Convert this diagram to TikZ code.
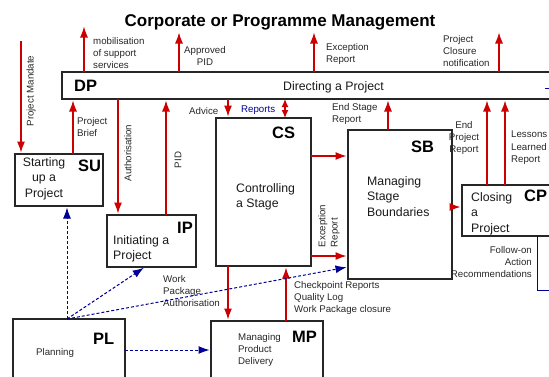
\documentclass[tikz,border=0pt]{standalone}
\usepackage{fontspec}
\setmainfont{Liberation Sans}
\usetikzlibrary{arrows.meta}
\definecolor{pred}{RGB}{204,0,0}
\definecolor{pblue}{RGB}{0,0,150}
\definecolor{ptxt}{RGB}{40,40,40}
\begin{document}
\begin{tikzpicture}[x=1pt,y=-1pt,
  box/.style={draw=black!85, line width=1.2pt, anchor=north west, inner sep=0pt, outer sep=0pt, fill=white},
  ra/.style={draw=pred, line width=1.2pt, shorten >=1.5pt, -{Latex[length=11pt,width=8pt]}},
  rb/.style={draw=pred, line width=1.2pt, {Latex[length=8pt,width=7pt]}-{Latex[length=8pt,width=7pt]}},
  ba/.style={draw=pblue, line width=1pt, dash pattern=on 3pt off 2pt, shorten >=1.5pt, -{Latex[length=11pt,width=8pt]}},
  bl/.style={draw=pblue, line width=1pt},
  lbl/.style={font=\fontsize{9.7}{12.3}\selectfont, text=ptxt, inner sep=0pt, align=left},
  lblr/.style={lbl, align=right},
  lblc/.style={lbl, align=center},
  btxt/.style={font=\fontsize{12.3}{15.5}\selectfont, text=black!90, inner sep=0pt, align=left},
  code/.style={font=\fontsize{16.5}{18}\selectfont\bfseries, inner sep=0pt}]
\clip (0,0) rectangle (549,376);
\fill[white] (0,0) rectangle (549,376);

% title
\node[font=\fontsize{17}{20}\selectfont\bfseries, inner sep=0pt] (title) at (280,22) {Corporate or Programme Management};

% boxes
\node[box, minimum width=500pt, minimum height=27pt] (dp) at (62,72) {};
\node[box, minimum width=88pt, minimum height=52pt] (su) at (15,154) {};
\node[box, minimum width=89pt, minimum height=52pt] (ip) at (107,215) {};
\node[box, minimum width=95pt, minimum height=148pt] (cs) at (216,118) {};
\node[box, minimum width=104pt, minimum height=149pt] (sb) at (348,130) {};
\node[box, minimum width=100pt, minimum height=51pt] (cp) at (462,185) {};
\node[box, minimum width=112pt, minimum height=70pt] (pl) at (13,319) {};
\node[box, minimum width=112pt, minimum height=70pt] (mp) at (211,321) {};

% box texts
\node[code, anchor=west] (dpc) at (74,86) {DP};
\node[btxt, anchor=west] (dpt) at (283,87) {Directing a Project};
\node[code, anchor=west] (suc) at (78,166) {SU};
\node[btxt, align=center, anchor=north] (sut) at (44,157) {Starting\\up a\\Project};
\node[code, anchor=west] (ipc) at (177,228) {IP};
\node[btxt, anchor=north west] (ipt) at (113,235) {Initiating a\\Project};
\node[code, anchor=west] (csc) at (272,133) {CS};
\node[btxt, anchor=north west] (cst) at (236,183) {Controlling\\a Stage};
\node[code, anchor=west] (sbc) at (411,147) {SB};
\node[btxt, anchor=north west] (sbt) at (367,176) {Managing\\Stage\\Boundaries};
\node[code, anchor=west] (cpc) at (524,196) {CP};
\node[btxt, anchor=north west] (cpt) at (471,192) {Closing\\a\\Project};
\node[code, anchor=west] (plc) at (93,339) {PL};
\node[lbl, anchor=west] (plt) at (36,353) {Planning};
\node[code, anchor=west] (mpc) at (292,337) {MP};
\node[lbl, anchor=north west] (mpt) at (238,333) {Managing\\Product\\Delivery};

% labels
\node[lbl, anchor=north west] (l1) at (93,37) {mobilisation\\of support\\services};
\node[lblc, anchor=north] (l2) at (205,46) {Approved\\PID};
\node[lbl, anchor=north west] (l3) at (326,43) {Exception\\Report};
\node[lbl, anchor=north west] (l4) at (443,35) {Project\\Closure\\notification};
\node[lbl, rotate=90] (l5) at (31,91) {Project Mandate};
\node[lbl, anchor=north west] (l6) at (77,117) {Project\\Brief};
\node[lbl, rotate=90] (l7) at (128,153) {Authorisation};
\node[lbl, rotate=90] (l8) at (178,160) {PID};
\node[lbl, anchor=west] (l9) at (189,111) {Advice};
\node[lbl, anchor=west, text=pblue] (l10) at (241,110) {Reports};
\node[lbl, anchor=north west] (l11) at (332,103) {End Stage\\Report};
\node[lblc, anchor=north] (l12) at (464,121) {End\\Project\\Report};
\node[lbl, anchor=north west] (l13) at (511,131) {Lessons\\Learned\\Report};
\node[lbl, rotate=90] (l14) at (329,226) {Exception\\Report};
\node[lblr, anchor=north east] (l15) at (532,246) {Follow-on\\Action\\Recommendations};
\node[lbl, anchor=north west] (l16) at (163,275) {Work\\Package\\Authorisation};
\node[lbl, anchor=north west] (l17) at (294,281) {Checkpoint Reports\\Quality Log\\Work Package closure};

% coordinates for connector positions
\coordinate (mob) at (84,25);
\coordinate (apid) at (179,31);
\coordinate (excr) at (314,31);
\coordinate (clos) at (499,31);
\coordinate (mand) at (21,41);
\coordinate (cbrief) at (73,0);
\coordinate (cauth) at (118,0);
\coordinate (cpid) at (166,0);
\coordinate (cadv) at (228,0);
\coordinate (crep) at (285,0);
\coordinate (ccs1) at (0,156);
\coordinate (ccs2) at (0,256);
\coordinate (cesr) at (388,0);
\coordinate (csbcp) at (0,207);
\coordinate (cepr) at (487,0);
\coordinate (cll) at (505,0);
\coordinate (cchk) at (286,0);
\coordinate (plh) at (67,0);
\coordinate (cip) at (145,0);
\coordinate (csbb) at (0,267);
\coordinate (cplmp) at (0,350);
\coordinate (cfo) at (537,290);
\coordinate (cfoe) at (552,290);
\coordinate (tk1) at (545,88);
\coordinate (tk2) at (552,88);

% red connectors
\draw[ra] (dp.north -| mob) -- (mob);
\draw[ra] (dp.north -| apid) -- (apid);
\draw[ra] (dp.north -| excr) -- (excr);
\draw[ra] (dp.north -| clos) -- (clos);
\draw[ra] (mand) -- (su.north -| mand);
\draw[ra] (su.north -| cbrief) -- (dp.south -| cbrief);
\draw[ra] (dp.south -| cauth) -- (ip.north -| cauth);
\draw[ra] (ip.north -| cpid) -- (dp.south -| cpid);
\draw[ra] (dp.south -| cadv) -- (cs.north -| cadv);
\draw[rb] (dp.south -| crep) -- (cs.north -| crep);
\draw[ra] (cs.east |- ccs1) -- (sb.west |- ccs1);
\draw[ra] (cs.east |- ccs2) -- (sb.west |- ccs2);
\draw[ra] (sb.north -| cesr) -- (dp.south -| cesr);
\draw[ra] (sb.east |- csbcp) -- (cp.west |- csbcp);
\draw[ra] (cp.north -| cepr) -- (dp.south -| cepr);
\draw[ra] (cp.north -| cll) -- (dp.south -| cll);
\draw[ra] (cs.south -| cadv) -- (mp.north -| cadv);
\draw[ra] (mp.north -| cchk) -- (cs.south -| cchk);

% blue connectors
\draw[ba] (pl.north -| plh) -- (su.south -| plh);
\draw[ba] (pl.north -| plh) -- (ip.south -| cip);
\draw[ba] (pl.north -| plh) -- (sb.west |- csbb);
\draw[ba] (pl.east |- cplmp) -- (mp.west |- cplmp);
\draw[bl] (cp.south -| cfo) -- (cfo) -- (cfoe);
\draw[bl] (tk1) -- (tk2);
\end{tikzpicture}
\end{document}
